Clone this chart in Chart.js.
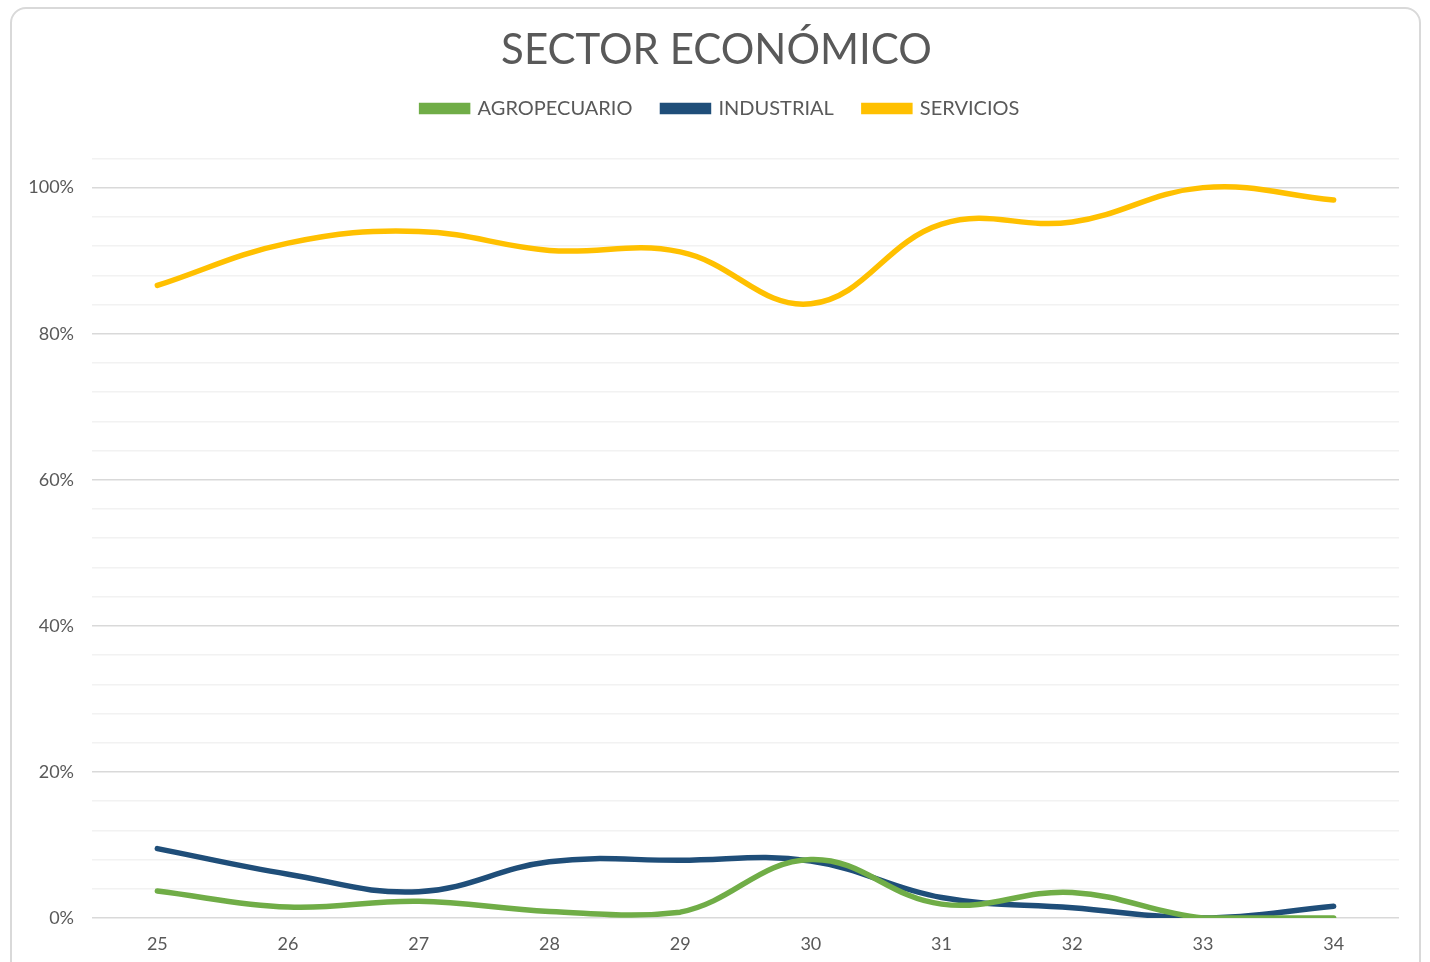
<!DOCTYPE html>
<html>
<head>
<meta charset="utf-8">
<script src="https://cdn.jsdelivr.net/npm/chart.js@4"></script>
<style>
	html, body { margin: 0; padding: 0; background: #ffffff; }
	#frame {
		position: absolute; left: 10px; top: 7px; width: 1411px; height: 990px;
		border: 2px solid #d9d9d9; border-radius: 16px; box-sizing: border-box;
	}
	#wrap { position: absolute; left: 0; top: 0; width: 1430px; height: 962px; }
</style>
</head>
<body>
<div id="frame"></div>
<div id="wrap"><canvas id="sectorChart"></canvas></div>
<script>
const categories = ['25', '26', '27', '28', '29', '30', '31', '32', '33', '34'];
const agropecuario = [3.7, 1.5, 2.3, 0.9, 0.8, 8.0, 1.9, 3.5, 0.0, 0.0];
const industrial = [9.5, 6.0, 3.6, 7.7, 7.9, 7.8, 2.8, 1.4, 0.0, 1.6];
const servicios = [86.6, 92.4, 94.0, 91.4, 91.2, 84.1, 95.0, 95.3, 100.0, 98.3];
const seriesNames = ['AGROPECUARIO', 'INDUSTRIAL', 'SERVICIOS'];
const seriesColors = ['#70ad47', '#1f4e79', '#ffc000'];

document.addEventListener("DOMContentLoaded", function() {
	const ctx = document.getElementById('sectorChart').getContext('2d');
	const font = "'Lato', 'DejaVu Sans', sans-serif";
	const textColor = '#595959';

	function makeSet(i, values) {
		return {
			label: seriesNames[i],
			data: values,
			borderColor: seriesColors[i],
			backgroundColor: seriesColors[i],
			borderWidth: 5.5,
			borderCapStyle: 'round',
			pointRadius: 0,
			tension: 0.4,
			fill: false
		};
	}

	function shiftDraw(box, dx) {
		const draw = box.draw;
		box.draw = function() {
			this.ctx.save();
			this.ctx.translate(dx, 0);
			draw.apply(this, arguments);
			this.ctx.restore();
		};
	}

	// extra room under the legend row, and nudge title/legend to the right a bit
	const headerTweak = {
		id: 'headerTweak',
		beforeLayout: function(chart) {
			if (chart._headerPatched) return;
			const lg = chart.legend;
			const tb = chart.titleBlock;
			if (lg) {
				const fit = lg.fit;
				lg.fit = function() { fit.call(this); this.height += 30; };
				shiftDraw(lg, 21);
			}
			if (tb) shiftDraw(tb, 17);
			chart._headerPatched = true;
		}
	};

	new Chart(ctx, {
		type: 'line',
		data: {
			labels: categories,
			datasets: [makeSet(0, agropecuario), makeSet(1, industrial), makeSet(2, servicios)]
		},
		plugins: [headerTweak],
		options: {
			responsive: true,
			maintainAspectRatio: false,
			animation: false,
			layout: { padding: { top: 8, right: 31, bottom: 0, left: 0 } },
			plugins: {
				title: {
					display: true,
					text: 'SECTOR ECONÓMICO',
					color: textColor,
					font: { family: font, size: 42, weight: 'normal' },
					padding: { top: 17, bottom: -7 }
				},
				legend: {
					position: 'top',
					labels: {
						color: textColor,
						font: { family: font, size: 20 },
						boxWidth: 46,
						boxHeight: 6,
						padding: 30
					}
				},
				tooltip: { enabled: false }
			},
			scales: {
				x: {
					offset: true,
					grid: { display: false, drawTicks: false },
					border: { display: false },
					ticks: { color: textColor, font: { family: font, size: 18 }, padding: 15 },
					afterFit: function(scale) { scale.height = 44; }
				},
				y: {
					min: 0,
					max: 104,
					grid: {
						drawTicks: false,
						color: function(c) { return c.tick && c.tick.value % 20 === 0 ? '#d9d9d9' : '#f2f2f2'; },
						lineWidth: 1.5
					},
					border: { display: false },
					ticks: {
						stepSize: 4,
						autoSkip: false,
						padding: 18,
						color: textColor,
						font: { family: font, size: 18 },
						callback: function(v) { return v % 20 === 0 ? v + '%' : ''; }
					},
					afterFit: function(scale) { scale.width = 92; }
				}
			}
		}
	});
});
</script>
</body>
</html>
